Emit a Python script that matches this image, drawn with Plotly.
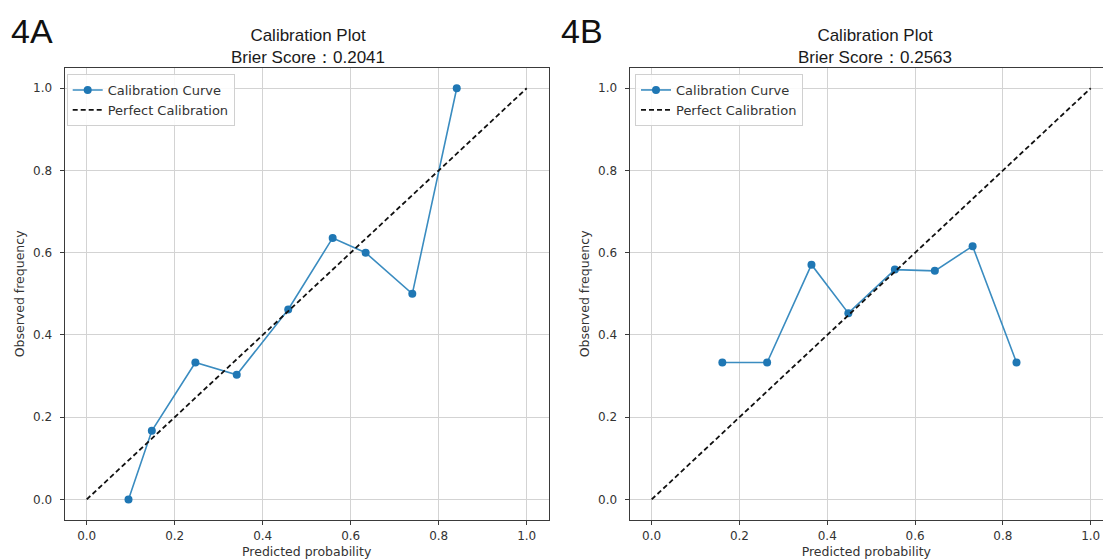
import plotly.graph_objects as go

# ---- data ----
a_pred = [0.095, 0.148, 0.247, 0.341, 0.458, 0.559, 0.634, 0.740, 0.841]
a_obs = [0.0, 0.167, 0.333, 0.303, 0.462, 0.636, 0.600, 0.500, 1.0]
b_pred = [0.161, 0.263, 0.364, 0.448, 0.554, 0.645, 0.731, 0.831]
b_obs = [0.333, 0.333, 0.571, 0.453, 0.559, 0.556, 0.616, 0.333]
perfect_x = [0.0, 1.0]
perfect_y = [0.0, 1.0]
brier_a = "0.2041"
brier_b = "0.2563"
tick_vals = [0.0, 0.2, 0.4, 0.6, 0.8, 1.0]
tick_text = ["0.0", "0.2", "0.4", "0.6", "0.8", "1.0"]

W, H = 1103, 560
LINE_BLUE = "#3a8cc0"
MARK_BLUE = "#1f77b4"
TXT = "#333333"
FONT = "DejaVu Sans"

fig = go.Figure()

# Panel A
fig.add_trace(go.Scatter(x=a_pred, y=a_obs, mode="lines+markers", name="Calibration Curve",
                         line=dict(color=LINE_BLUE, width=1.6),
                         marker=dict(color=MARK_BLUE, size=8),
                         xaxis="x", yaxis="y", legend="legend"))
fig.add_trace(go.Scatter(x=perfect_x, y=perfect_y, mode="lines", name="Perfect Calibration",
                         line=dict(color="#111111", width=1.8, dash="5px,3px"),
                         xaxis="x", yaxis="y", legend="legend"))
# Panel B
fig.add_trace(go.Scatter(x=b_pred, y=b_obs, mode="lines+markers", name="Calibration Curve",
                         line=dict(color=LINE_BLUE, width=1.6),
                         marker=dict(color=MARK_BLUE, size=8),
                         xaxis="x2", yaxis="y2", legend="legend2"))
fig.add_trace(go.Scatter(x=perfect_x, y=perfect_y, mode="lines", name="Perfect Calibration",
                         line=dict(color="#111111", width=1.8, dash="5px,3px"),
                         xaxis="x2", yaxis="y2", legend="legend2"))

def px_x(p):
    return p / W

def px_y(p):
    return (H - p) / H

ydom = [px_y(520), px_y(67.7)]

axis_common = dict(
    tickvals=tick_vals, ticktext=tick_text,
    showgrid=True, gridcolor="#d3d3d3", gridwidth=1,
    zeroline=False, showline=True, linecolor="#3a3a3a", linewidth=1.2,
    ticks="outside", ticklen=4, tickcolor="#3a3a3a", tickwidth=1,
    tickfont=dict(family=FONT, size=12, color=TXT),
)

fig.update_layout(
    width=W, height=H,
    margin=dict(l=0, r=0, t=0, b=0, autoexpand=False),
    paper_bgcolor="white", plot_bgcolor="white",
    xaxis=dict(domain=[px_x(64.7), px_x(548.7)], range=[-0.05, 1.05], anchor="y", mirror=True,
               title=dict(text="Predicted probability", font=dict(family=FONT, size=12.5, color=TXT), standoff=5),
               **axis_common),
    yaxis=dict(domain=ydom, range=[-0.05, 1.05], anchor="x", mirror=True, ticklabelstandoff=5,
               title=dict(text="Observed frequency", font=dict(family=FONT, size=12.5, color=TXT), standoff=5),
               **axis_common),
    xaxis2=dict(domain=[px_x(629.7), 1.0], range=[-0.05, 1 + (W - 1090.7) / 439.0], anchor="y2", mirror=True,
                title=dict(text="Predicted probability", font=dict(family=FONT, size=12.5, color=TXT), standoff=5),
                **axis_common),
    yaxis2=dict(domain=ydom, range=[-0.05, 1.05], anchor="x2", mirror=False, ticklabelstandoff=5,
                title=dict(text="Observed frequency", font=dict(family=FONT, size=12.5, color=TXT), standoff=5),
                **axis_common),
    legend=dict(x=px_x(66.7), y=px_y(74), xanchor="left", yanchor="top",
                bgcolor="rgba(255,255,255,0.85)", bordercolor="#d0d0d0", borderwidth=1,
                font=dict(family=FONT, size=13, color=TXT), tracegroupgap=0),
    legend2=dict(x=px_x(635), y=px_y(74), xanchor="left", yanchor="top",
                 bgcolor="rgba(255,255,255,0.85)", bordercolor="#d0d0d0", borderwidth=1,
                 font=dict(family=FONT, size=13, color=TXT), tracegroupgap=0),
    showlegend=True,
)

title_font = dict(family="Liberation Sans, Arial", size=17, color="#1a1a1a")
fig.add_annotation(x=px_x(308), y=px_y(46), xref="paper", yref="paper", showarrow=False,
                   text="Calibration Plot<br>Brier Score：" + brier_a, font=title_font,
                   xanchor="center", yanchor="middle", align="center")
fig.add_annotation(x=px_x(875), y=px_y(46), xref="paper", yref="paper", showarrow=False,
                   text="Calibration Plot<br>Brier Score：" + brier_b, font=title_font,
                   xanchor="center", yanchor="middle", align="center")

panel_font = dict(family="Liberation Sans, Arial", size=34, color="#111111")
fig.add_annotation(x=px_x(9), y=px_y(31), xref="paper", yref="paper", showarrow=False,
                   text="4A", font=panel_font, xanchor="left", yanchor="middle")
fig.add_annotation(x=px_x(559), y=px_y(31), xref="paper", yref="paper", showarrow=False,
                   text="4B", font=panel_font, xanchor="left", yanchor="middle")

fig.write_html("out.html", config={"displayModeBar": False},
               post_script="document.body.style.margin='0';document.body.style.padding='0';")
